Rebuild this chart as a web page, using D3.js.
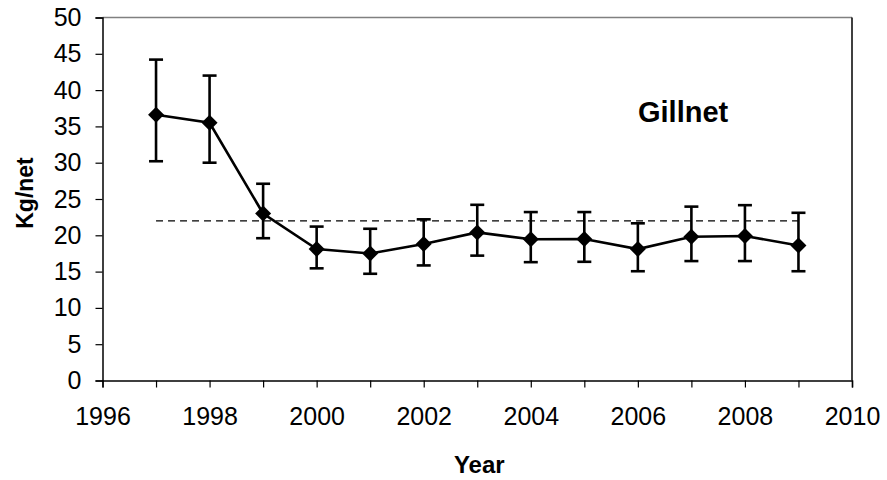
<!DOCTYPE html>
<html>
<head>
<meta charset="utf-8">
<script src="https://cdn.jsdelivr.net/npm/d3@7"></script>
<style>
  body { margin: 0; background: #fff; }
  svg text { font-family: Arial, "Liberation Sans", sans-serif; fill: #000; }
</style>
</head>
<body>
<svg id="chart" width="887" height="480"></svg>
<script>
// Gillnet catch per unit effort (kg/net), yearly mean with error bars
const years = [1997, 1998, 1999, 2000, 2001, 2002, 2003, 2004, 2005, 2006, 2007, 2008, 2009];
const meanKg = [36.6, 35.5, 23.0, 18.1, 17.5, 18.8, 20.4, 19.45, 19.5, 18.1, 19.8, 19.9, 18.6];
const upperKg = [44.2, 42.0, 27.1, 21.2, 20.9, 22.2, 24.2, 23.2, 23.2, 21.65, 23.95, 24.15, 23.1];
const lowerKg = [30.2, 30.0, 19.6, 15.45, 14.7, 15.85, 17.2, 16.3, 16.35, 15.05, 16.45, 16.45, 15.05];
const referenceKg = 22;
const refSpan = [1997, 2009];
const xTicks = [1996, 1998, 2000, 2002, 2004, 2006, 2008, 2010];
const xMinorTicks = d3.range(1996, 2011, 1);
const yTicks = [0, 5, 10, 15, 20, 25, 30, 35, 40, 45, 50];

const svg = d3.select("#chart");
const m = { left: 102.5, right: 852, top: 17.5, bottom: 380.5 };

const x = d3.scaleLinear().domain([1996, 2010]).range([m.left, m.right]);
const y = d3.scaleLinear().domain([0, 50]).range([m.bottom, m.top]);

// plot frame: grey top, black right
svg.append("line").attr("x1", m.left).attr("x2", m.right).attr("y1", m.top).attr("y2", m.top)
  .attr("stroke", "#808080").attr("stroke-width", 1.5);
svg.append("line").attr("x1", m.right).attr("x2", m.right).attr("y1", m.top).attr("y2", m.bottom)
  .attr("stroke", "#000").attr("stroke-width", 1.5);

// y axis
const yAxis = svg.append("g").attr("transform", `translate(${m.left},0)`)
  .call(d3.axisLeft(y).tickValues(yTicks).tickSize(7).tickPadding(14).tickFormat(d3.format("d")));
yAxis.select(".domain").attr("stroke", "#000").attr("stroke-width", 1.5);
yAxis.selectAll(".tick line").attr("stroke", "#000").attr("stroke-width", 1.2);
yAxis.selectAll("text").attr("font-size", 25).style("font-family", "Arial, 'Liberation Sans', sans-serif");

// x axis: a tick every year, labels every second year
const xAxis = svg.append("g").attr("transform", `translate(0,${m.bottom})`)
  .call(d3.axisBottom(x).tickValues(xMinorTicks).tickSize(7).tickPadding(20)
    .tickFormat(d => xTicks.includes(d) ? d3.format("d")(d) : ""));
xAxis.select(".domain").attr("stroke", "#000").attr("stroke-width", 1.5);
xAxis.selectAll(".tick line").attr("stroke", "#000").attr("stroke-width", 1.2);
xAxis.selectAll("text").attr("font-size", 25).style("font-family", "Arial, 'Liberation Sans', sans-serif");

// dashed reference level
svg.append("line")
  .attr("x1", x(refSpan[0])).attr("x2", x(refSpan[1]))
  .attr("y1", y(referenceKg)).attr("y2", y(referenceKg))
  .attr("stroke", "#000").attr("stroke-width", 1.2).attr("stroke-dasharray", "7,5");

const rows = years.map((yr, i) => ({ yr, v: meanKg[i], hi: upperKg[i], lo: lowerKg[i] }));

// error bars
const eb = svg.append("g").attr("stroke", "#000").attr("stroke-width", 2.6);
eb.selectAll("line.stem").data(rows).join("line").attr("class", "stem")
  .attr("x1", d => x(d.yr)).attr("x2", d => x(d.yr))
  .attr("y1", d => y(d.hi)).attr("y2", d => y(d.lo));
eb.selectAll("line.capHi").data(rows).join("line").attr("class", "capHi")
  .attr("x1", d => x(d.yr) - 7).attr("x2", d => x(d.yr) + 7)
  .attr("y1", d => y(d.hi)).attr("y2", d => y(d.hi));
eb.selectAll("line.capLo").data(rows).join("line").attr("class", "capLo")
  .attr("x1", d => x(d.yr) - 7).attr("x2", d => x(d.yr) + 7)
  .attr("y1", d => y(d.lo)).attr("y2", d => y(d.lo));

// series line
svg.append("path").datum(rows)
  .attr("fill", "none").attr("stroke", "#000").attr("stroke-width", 2.6)
  .attr("d", d3.line().x(d => x(d.yr)).y(d => y(d.v)));

// diamond markers
svg.append("g").selectAll("path").data(rows).join("path")
  .attr("transform", d => `translate(${x(d.yr)},${y(d.v)})`)
  .attr("d", "M0,-8L8,0L0,8L-8,0Z")
  .attr("fill", "#000");

// panel label
svg.append("text").attr("x", 638).attr("y", 122)
  .attr("font-size", 29).attr("font-weight", "bold").text("Gillnet");

// axis titles
svg.append("text").attr("x", (m.left + m.right) / 2 + 2).attr("y", 473)
  .attr("text-anchor", "middle").attr("font-size", 24).attr("font-weight", "bold").text("Year");
svg.append("text")
  .attr("transform", `translate(33,${(m.top + m.bottom) / 2 - 6}) rotate(-90)`)
  .attr("text-anchor", "middle").attr("font-size", 23).attr("font-weight", "bold").text("Kg/net");
</script>
</body>
</html>
